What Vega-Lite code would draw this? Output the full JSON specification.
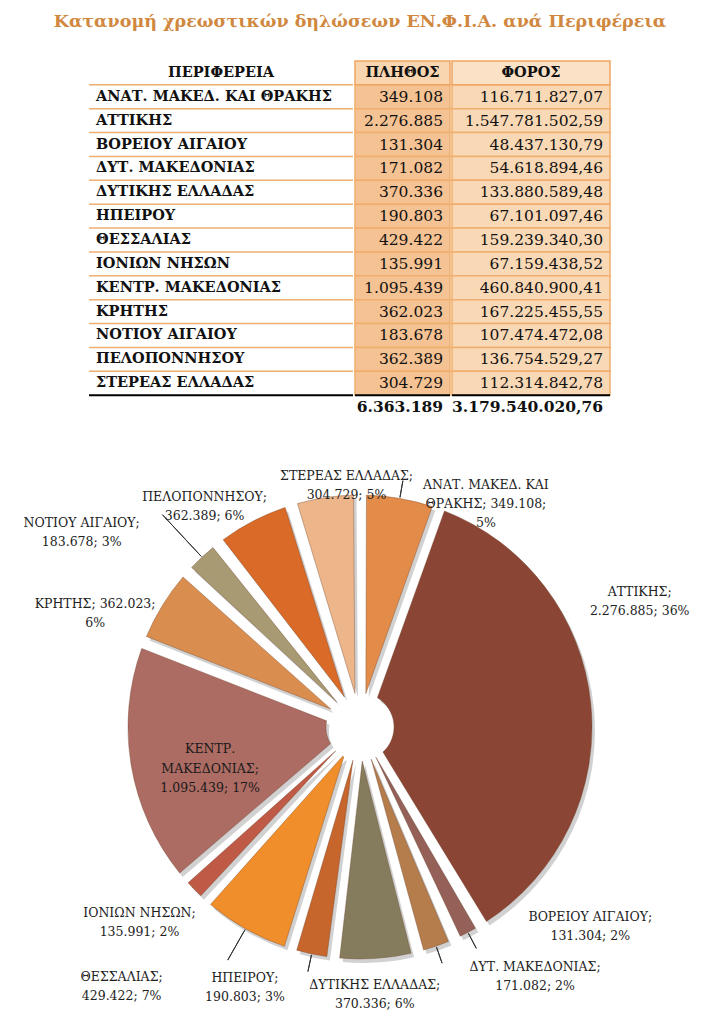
{
  "$schema": "https://vega.github.io/schema/vega-lite/v6.json",
  "padding": {"top": 12, "left": 0, "right": 0, "bottom": 0},
  "background": "white",
  "config": {
    "view": {"stroke": null},
    "text": {"font": "DejaVu Serif"},
    "locale": {"number": {"decimal": ",", "thousands": ".", "grouping": [3], "currency": ["", " €"]}}
  },
  "title": {
    "text": "Κατανομή χρεωστικών δηλώσεων ΕΝ.Φ.Ι.Α. ανά Περιφέρεια",
    "font": "DejaVu Serif",
    "fontSize": 17.5,
    "fontWeight": "bold",
    "color": "#D08840",
    "anchor": "middle",
    "offset": 30
  },
  "datasets": {
    "rows": [
      {"idx": 1, "region": "ΑΝΑΤ. ΜΑΚΕΔ. ΚΑΙ ΘΡΑΚΗΣ", "count": 349108, "tax": 116711827.07, "lines": ["ΑΝΑΤ. ΜΑΚΕΔ. ΚΑΙ", "ΘΡΑΚΗΣ; 349.108;", "5%"]},
      {"idx": 2, "region": "ΑΤΤΙΚΗΣ", "count": 2276885, "tax": 1547781502.59, "lines": ["ΑΤΤΙΚΗΣ;", "2.276.885; 36%"]},
      {"idx": 3, "region": "ΒΟΡΕΙΟΥ ΑΙΓΑΙΟΥ", "count": 131304, "tax": 48437130.79, "lines": ["ΒΟΡΕΙΟΥ ΑΙΓΑΙΟΥ;", "131.304; 2%"]},
      {"idx": 4, "region": "ΔΥΤ. ΜΑΚΕΔΟΝΙΑΣ", "count": 171082, "tax": 54618894.46, "lines": ["ΔΥΤ. ΜΑΚΕΔΟΝΙΑΣ;", "171.082; 2%"]},
      {"idx": 5, "region": "ΔΥΤΙΚΗΣ ΕΛΛΑΔΑΣ", "count": 370336, "tax": 133880589.48, "lines": ["ΔΥΤΙΚΗΣ ΕΛΛΑΔΑΣ;", "370.336; 6%"]},
      {"idx": 6, "region": "ΗΠΕΙΡΟΥ", "count": 190803, "tax": 67101097.46, "lines": ["ΗΠΕΙΡΟΥ;", "190.803; 3%"]},
      {"idx": 7, "region": "ΘΕΣΣΑΛΙΑΣ", "count": 429422, "tax": 159239340.30, "lines": ["ΘΕΣΣΑΛΙΑΣ;", "429.422; 7%"]},
      {"idx": 8, "region": "ΙΟΝΙΩΝ ΝΗΣΩΝ", "count": 135991, "tax": 67159438.52, "lines": ["ΙΟΝΙΩΝ ΝΗΣΩΝ;", "135.991; 2%"]},
      {"idx": 9, "region": "ΚΕΝΤΡ. ΜΑΚΕΔΟΝΙΑΣ", "count": 1095439, "tax": 460840900.41, "lines": ["ΚΕΝΤΡ.", "ΜΑΚΕΔΟΝΙΑΣ;", "1.095.439; 17%"]},
      {"idx": 10, "region": "ΚΡΗΤΗΣ", "count": 362023, "tax": 167225455.55, "lines": ["ΚΡΗΤΗΣ; 362.023;", "6%"]},
      {"idx": 11, "region": "ΝΟΤΙΟΥ ΑΙΓΑΙΟΥ", "count": 183678, "tax": 107474472.08, "lines": ["ΝΟΤΙΟΥ ΑΙΓΑΙΟΥ;", "183.678; 3%"]},
      {"idx": 12, "region": "ΠΕΛΟΠΟΝΝΗΣΟΥ", "count": 362389, "tax": 136754529.27, "lines": ["ΠΕΛΟΠΟΝΝΗΣΟΥ;", "362.389; 6%"]},
      {"idx": 13, "region": "ΣΤΕΡΕΑΣ ΕΛΛΑΔΑΣ", "count": 304729, "tax": 112314842.78, "lines": ["ΣΤΕΡΕΑΣ ΕΛΛΑΔΑΣ;", "304.729; 5%"]}
    ]
  },
  "spacing": 20,
  "vconcat": [
    {
      "spacing": 0,
      "hconcat": [
        {
          "width": 88, "height": 358,
          "data": {"values": []},
          "mark": "text"
        },
        {
          "width": 264, "height": 358,
          "data": {"name": "rows"},
          "layer": [
            {
              "mark": {"type": "rule", "stroke": "#F0AE6E", "strokeWidth": 1.5},
              "encoding": {
                "x": {"datum": 0, "type": "quantitative", "scale": {"domain": [0, 1], "nice": false, "zero": false}, "axis": null},
                "x2": {"datum": 1},
                "y": {"field": "region", "type": "nominal", "bandPosition": 0, "scale": {"domain": ["H", "ΑΝΑΤ. ΜΑΚΕΔ. ΚΑΙ ΘΡΑΚΗΣ", "ΑΤΤΙΚΗΣ", "ΒΟΡΕΙΟΥ ΑΙΓΑΙΟΥ", "ΔΥΤ. ΜΑΚΕΔΟΝΙΑΣ", "ΔΥΤΙΚΗΣ ΕΛΛΑΔΑΣ", "ΗΠΕΙΡΟΥ", "ΘΕΣΣΑΛΙΑΣ", "ΙΟΝΙΩΝ ΝΗΣΩΝ", "ΚΕΝΤΡ. ΜΑΚΕΔΟΝΙΑΣ", "ΚΡΗΤΗΣ", "ΝΟΤΙΟΥ ΑΙΓΑΙΟΥ", "ΠΕΛΟΠΟΝΝΗΣΟΥ", "ΣΤΕΡΕΑΣ ΕΛΛΑΔΑΣ", "T"], "paddingInner": 0, "paddingOuter": 0}, "axis": null}
              }
            },
            {
              "mark": {"type": "text", "align": "left", "dx": 7, "fontSize": 14.5, "fontWeight": "bold", "fill": "#111"},
              "encoding": {
                "x": {"datum": 0, "type": "quantitative"},
                "y": {"field": "region", "type": "nominal"},
                "text": {"field": "region", "type": "nominal"}
              }
            },
            {
              "data": {"values": [{}]},
              "mark": {"type": "text", "align": "center", "fontSize": 14.5, "fontWeight": "bold", "fill": "#111"},
              "encoding": {
                "x": {"datum": 0.5, "type": "quantitative"},
                "y": {"datum": "H", "type": "nominal"},
                "text": {"value": "ΠΕΡΙΦΕΡΕΙΑ"}
              }
            },
            {
              "data": {"values": [{}]},
              "mark": {"type": "rule", "stroke": "#000", "strokeWidth": 2},
              "encoding": {
                "x": {"datum": 0, "type": "quantitative"},
                "x2": {"datum": 1},
                "y": {"datum": "T", "type": "nominal", "bandPosition": 0}
              }
            }
          ]
        },
        {
          "width": 95, "height": 358,
          "data": {"name": "rows"},
          "layer": [
            {
              "mark": {"type": "rect", "fill": "#F4C293", "stroke": "#F0AE6E", "strokeWidth": 1.5},
              "encoding": {
                "x": {"datum": 0, "type": "quantitative", "scale": {"domain": [0, 1], "nice": false, "zero": false}, "axis": null},
                "x2": {"datum": 1},
                "y": {"field": "region", "type": "nominal", "scale": {"domain": ["H", "ΑΝΑΤ. ΜΑΚΕΔ. ΚΑΙ ΘΡΑΚΗΣ", "ΑΤΤΙΚΗΣ", "ΒΟΡΕΙΟΥ ΑΙΓΑΙΟΥ", "ΔΥΤ. ΜΑΚΕΔΟΝΙΑΣ", "ΔΥΤΙΚΗΣ ΕΛΛΑΔΑΣ", "ΗΠΕΙΡΟΥ", "ΘΕΣΣΑΛΙΑΣ", "ΙΟΝΙΩΝ ΝΗΣΩΝ", "ΚΕΝΤΡ. ΜΑΚΕΔΟΝΙΑΣ", "ΚΡΗΤΗΣ", "ΝΟΤΙΟΥ ΑΙΓΑΙΟΥ", "ΠΕΛΟΠΟΝΝΗΣΟΥ", "ΣΤΕΡΕΑΣ ΕΛΛΑΔΑΣ", "T"], "paddingInner": 0, "paddingOuter": 0}, "axis": null}
              }
            },
            {
              "data": {"values": [{}]},
              "mark": {"type": "rect", "fill": "#F9D6B0", "stroke": "#EFA562", "strokeWidth": 1.5},
              "encoding": {
                "x": {"datum": 0, "type": "quantitative"},
                "x2": {"datum": 1},
                "y": {"datum": "H", "type": "nominal"}
              }
            },
            {
              "mark": {"type": "text", "align": "right", "dx": -7, "fontSize": 15.5, "fill": "#111"},
              "encoding": {
                "x": {"datum": 1, "type": "quantitative"},
                "y": {"field": "region", "type": "nominal"},
                "text": {"field": "count", "type": "quantitative", "format": ",d"}
              }
            },
            {
              "data": {"values": [{}]},
              "mark": {"type": "text", "align": "center", "fontSize": 14.5, "fontWeight": "bold", "fill": "#111"},
              "encoding": {
                "x": {"datum": 0.5, "type": "quantitative"},
                "y": {"datum": "H", "type": "nominal"},
                "text": {"value": "ΠΛΗΘΟΣ"}
              }
            },
            {
              "transform": [{"aggregate": [{"op": "sum", "field": "count", "as": "totalCount"}]}],
              "mark": {"type": "text", "align": "right", "dx": -7, "fontSize": 15.5, "fontWeight": "bold", "fill": "#111"},
              "encoding": {
                "x": {"datum": 1, "type": "quantitative"},
                "y": {"datum": "T", "type": "nominal"},
                "text": {"field": "totalCount", "type": "quantitative", "format": ",d"}
              }
            },
            {
              "data": {"values": [{}]},
              "mark": {"type": "rule", "stroke": "#000", "strokeWidth": 2},
              "encoding": {
                "x": {"datum": 0, "type": "quantitative"},
                "x2": {"datum": 1},
                "y": {"datum": "T", "type": "nominal", "bandPosition": 0}
              }
            }
          ]
        },
        {
          "width": 158, "height": 358,
          "data": {"name": "rows"},
          "layer": [
            {
              "mark": {"type": "rect", "fill": "#F9D8B5", "stroke": "#F0AE6E", "strokeWidth": 1.5},
              "encoding": {
                "x": {"datum": 0, "type": "quantitative", "scale": {"domain": [0, 1], "nice": false, "zero": false}, "axis": null},
                "x2": {"datum": 1},
                "y": {"field": "region", "type": "nominal", "scale": {"domain": ["H", "ΑΝΑΤ. ΜΑΚΕΔ. ΚΑΙ ΘΡΑΚΗΣ", "ΑΤΤΙΚΗΣ", "ΒΟΡΕΙΟΥ ΑΙΓΑΙΟΥ", "ΔΥΤ. ΜΑΚΕΔΟΝΙΑΣ", "ΔΥΤΙΚΗΣ ΕΛΛΑΔΑΣ", "ΗΠΕΙΡΟΥ", "ΘΕΣΣΑΛΙΑΣ", "ΙΟΝΙΩΝ ΝΗΣΩΝ", "ΚΕΝΤΡ. ΜΑΚΕΔΟΝΙΑΣ", "ΚΡΗΤΗΣ", "ΝΟΤΙΟΥ ΑΙΓΑΙΟΥ", "ΠΕΛΟΠΟΝΝΗΣΟΥ", "ΣΤΕΡΕΑΣ ΕΛΛΑΔΑΣ", "T"], "paddingInner": 0, "paddingOuter": 0}, "axis": null}
              }
            },
            {
              "data": {"values": [{}]},
              "mark": {"type": "rect", "fill": "#FBE1C6", "stroke": "#EFA562", "strokeWidth": 1.5},
              "encoding": {
                "x": {"datum": 0, "type": "quantitative"},
                "x2": {"datum": 1},
                "y": {"datum": "H", "type": "nominal"}
              }
            },
            {
              "mark": {"type": "text", "align": "right", "dx": -7, "fontSize": 15.5, "fill": "#111"},
              "encoding": {
                "x": {"datum": 1, "type": "quantitative"},
                "y": {"field": "region", "type": "nominal"},
                "text": {"field": "tax", "type": "quantitative", "format": ",.2f"}
              }
            },
            {
              "data": {"values": [{}]},
              "mark": {"type": "text", "align": "center", "fontSize": 14.5, "fontWeight": "bold", "fill": "#111"},
              "encoding": {
                "x": {"datum": 0.5, "type": "quantitative"},
                "y": {"datum": "H", "type": "nominal"},
                "text": {"value": "ΦΟΡΟΣ"}
              }
            },
            {
              "transform": [{"aggregate": [{"op": "sum", "field": "tax", "as": "totalTax"}]}],
              "mark": {"type": "text", "align": "right", "dx": -7, "fontSize": 15.5, "fontWeight": "bold", "fill": "#111"},
              "encoding": {
                "x": {"datum": 1, "type": "quantitative"},
                "y": {"datum": "T", "type": "nominal"},
                "text": {"field": "totalTax", "type": "quantitative", "format": ",.2f"}
              }
            },
            {
              "data": {"values": [{}]},
              "mark": {"type": "rule", "stroke": "#000", "strokeWidth": 2},
              "encoding": {
                "x": {"datum": 0, "type": "quantitative"},
                "x2": {"datum": 1},
                "y": {"datum": "T", "type": "nominal", "bandPosition": 0}
              }
            }
          ]
        }
      ]
    },
    {
      "width": 720,
      "height": 576,
      "data": {"name": "rows"},
      "encoding": {
        "theta": {"field": "count", "type": "quantitative", "stack": true},
        "order": {"field": "idx", "type": "quantitative"}
      },
      "layer": [
        {
          "mark": {"type": "arc", "outerRadius": 232, "innerRadius": 34, "padAngle": 0.055, "fill": "#000", "opacity": 0.18, "xOffset": 3, "yOffset": 4}
        },
        {
          "mark": {"type": "arc", "outerRadius": 232, "innerRadius": 34, "padAngle": 0.055, "stroke": "#6B3B22", "strokeOpacity": 0.35, "strokeWidth": 1},
          "encoding": {
            "color": {
              "field": "region", "type": "nominal", "legend": null,
              "scale": {
                "domain": ["ΑΝΑΤ. ΜΑΚΕΔ. ΚΑΙ ΘΡΑΚΗΣ", "ΑΤΤΙΚΗΣ", "ΒΟΡΕΙΟΥ ΑΙΓΑΙΟΥ", "ΔΥΤ. ΜΑΚΕΔΟΝΙΑΣ", "ΔΥΤΙΚΗΣ ΕΛΛΑΔΑΣ", "ΗΠΕΙΡΟΥ", "ΘΕΣΣΑΛΙΑΣ", "ΙΟΝΙΩΝ ΝΗΣΩΝ", "ΚΕΝΤΡ. ΜΑΚΕΔΟΝΙΑΣ", "ΚΡΗΤΗΣ", "ΝΟΤΙΟΥ ΑΙΓΑΙΟΥ", "ΠΕΛΟΠΟΝΝΗΣΟΥ", "ΣΤΕΡΕΑΣ ΕΛΛΑΔΑΣ"],
                "range": ["#E38B48", "#8A4535", "#946058", "#B57C4C", "#857C5E", "#C6652C", "#F08E2C", "#BE5A46", "#AC6B63", "#D98D4E", "#A89A72", "#DA6A28", "#EDB58A"]
              }
            }
          }
        },
        {
          "mark": {"type": "arc", "clip": true, "outerRadius": 250, "innerRadius": 233, "padAngle": 3.1, "fillOpacity": 0, "stroke": "#333", "strokeWidth": 1},
          "encoding": {"strokeOpacity": {"condition": {"test": "indexof([1, 3, 4, 6], datum.idx) >= 0", "value": 1}, "value": 0}}
        },
        {
          "mark": {"type": "arc", "clip": true, "outerRadius": 290, "innerRadius": 233, "padAngle": 3.1, "fillOpacity": 0, "stroke": "#333", "strokeWidth": 1},
          "encoding": {"strokeOpacity": {"condition": {"test": "datum.idx === 11", "value": 1}, "value": 0}}
        },
        {
          "mark": {"type": "arc", "clip": true, "outerRadius": 268, "innerRadius": 233, "padAngle": 3.1, "fillOpacity": 0, "stroke": "#333", "strokeWidth": 1},
          "encoding": {"strokeOpacity": {"condition": {"test": "datum.idx === 7", "value": 1}, "value": 0}}
        },
        {
          "mark": {"type": "text", "clip": true, "radius": 250, "dx": 83, "dy": 4, "fontSize": 12.5, "fill": "#222", "lineHeight": 19, "align": "center", "baseline": "middle"},
          "encoding": {"text": {"condition": {"test": "datum.idx === 1", "field": "lines", "type": "nominal"}, "value": ""}}
        },
        {
          "mark": {"type": "text", "clip": true, "radius": 250, "dx": 31, "dy": -110, "fontSize": 12.5, "fill": "#222", "lineHeight": 19, "align": "center", "baseline": "middle"},
          "encoding": {"text": {"condition": {"test": "datum.idx === 2", "field": "lines", "type": "nominal"}, "value": ""}}
        },
        {
          "mark": {"type": "text", "clip": true, "radius": 250, "dx": 114, "dy": -31, "fontSize": 12.5, "fill": "#222", "lineHeight": 19, "align": "center", "baseline": "middle"},
          "encoding": {"text": {"condition": {"test": "datum.idx === 3", "field": "lines", "type": "nominal"}, "value": ""}}
        },
        {
          "mark": {"type": "text", "clip": true, "radius": 250, "dx": 93, "dy": 4, "fontSize": 12.5, "fill": "#222", "lineHeight": 19, "align": "center", "baseline": "middle"},
          "encoding": {"text": {"condition": {"test": "datum.idx === 4", "field": "lines", "type": "nominal"}, "value": ""}}
        },
        {
          "mark": {"type": "text", "clip": true, "radius": 250, "dx": -2, "dy": 9, "fontSize": 12.5, "fill": "#222", "lineHeight": 19, "align": "center", "baseline": "middle"},
          "encoding": {"text": {"condition": {"test": "datum.idx === 5", "field": "lines", "type": "nominal"}, "value": ""}}
        },
        {
          "mark": {"type": "text", "clip": true, "radius": 250, "dx": -63, "dy": 6, "fontSize": 12.5, "fill": "#222", "lineHeight": 19, "align": "center", "baseline": "middle"},
          "encoding": {"text": {"condition": {"test": "datum.idx === 6", "field": "lines", "type": "nominal"}, "value": ""}}
        },
        {
          "mark": {"type": "text", "clip": true, "radius": 250, "dx": -115, "dy": 33, "fontSize": 12.5, "fill": "#222", "lineHeight": 19, "align": "center", "baseline": "middle"},
          "encoding": {"text": {"condition": {"test": "datum.idx === 7", "field": "lines", "type": "nominal"}, "value": ""}}
        },
        {
          "mark": {"type": "text", "clip": true, "radius": 250, "dx": -42, "dy": 11, "fontSize": 12.5, "fill": "#222", "lineHeight": 19, "align": "center", "baseline": "middle"},
          "encoding": {"text": {"condition": {"test": "datum.idx === 8", "field": "lines", "type": "nominal"}, "value": ""}}
        },
        {
          "mark": {"type": "text", "clip": true, "radius": 152, "dx": 0, "dy": -3, "fontSize": 12.5, "fill": "#1a1a1a", "lineHeight": 19.5, "align": "center", "baseline": "middle"},
          "encoding": {"text": {"condition": {"test": "datum.idx === 9", "field": "lines", "type": "nominal"}, "value": ""}}
        },
        {
          "mark": {"type": "text", "clip": true, "radius": 250, "dx": -52, "dy": 8, "fontSize": 12.5, "fill": "#222", "lineHeight": 19, "align": "center", "baseline": "middle"},
          "encoding": {"text": {"condition": {"test": "datum.idx === 10", "field": "lines", "type": "nominal"}, "value": ""}}
        },
        {
          "mark": {"type": "text", "clip": true, "radius": 250, "dx": -108, "dy": -21, "fontSize": 12.5, "fill": "#222", "lineHeight": 19, "align": "center", "baseline": "middle"},
          "encoding": {"text": {"condition": {"test": "datum.idx === 11", "field": "lines", "type": "nominal"}, "value": ""}}
        },
        {
          "mark": {"type": "text", "clip": true, "radius": 250, "dx": -40, "dy": -8, "fontSize": 12.5, "fill": "#222", "lineHeight": 19, "align": "center", "baseline": "middle"},
          "encoding": {"text": {"condition": {"test": "datum.idx === 12", "field": "lines", "type": "nominal"}, "value": ""}}
        },
        {
          "mark": {"type": "text", "clip": true, "radius": 250, "dx": 24, "dy": -4, "fontSize": 12.5, "fill": "#222", "lineHeight": 19, "align": "center", "baseline": "middle"},
          "encoding": {"text": {"condition": {"test": "datum.idx === 13", "field": "lines", "type": "nominal"}, "value": ""}}
        }
      ]
    }
  ]
}
